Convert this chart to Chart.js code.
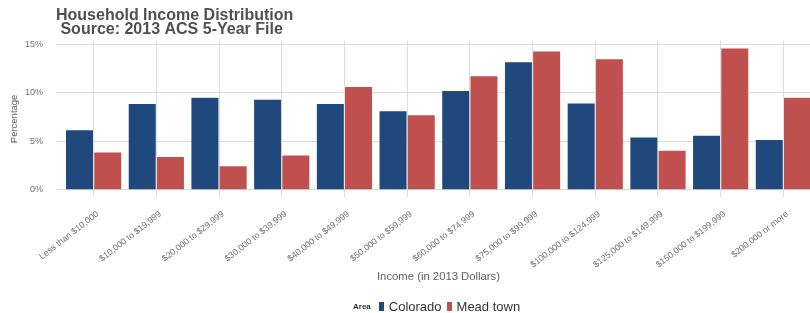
<!DOCTYPE html>
<html>
<head>
<meta charset="utf-8">
<script src="https://cdn.jsdelivr.net/npm/chart.js@4.4.1/dist/chart.umd.min.js"></script>
<style>
  body { margin: 0; overflow: hidden; background: #fff; font-family: "Liberation Sans", Arial, sans-serif; }
  #wrap { position: relative; width: 830px; height: 313px; }
  #legend { position: absolute; left: 353px; top: 300px; height: 13px; display: flex; align-items: center; color: #333; }
  #legend .ttl { font-size: 8px; font-weight: bold; margin-right: 8px; }
  #legend .sw { width: 5px; height: 9px; margin-right: 5px; }
  #legend .lb { font-size: 13px; margin-right: 5px; }
</style>
</head>
<body>
<div id="wrap">
  <canvas id="incomeChart"></canvas>
  <div id="legend">
    <span class="ttl">Area</span>
    <span class="sw" style="background:#1F497D"></span><span class="lb">Colorado</span>
    <span class="sw" style="background:#C0504D"></span><span class="lb">Mead town</span>
  </div>
</div>
<script>
// income brackets
const categories = [
    'Less than $10,000', '$10,000 to $19,999', '$20,000 to $29,999', '$30,000 to $39,999',
    '$40,000 to $49,999', '$50,000 to $59,999', '$60,000 to $74,999', '$75,000 to $99,999',
    '$100,000 to $124,999', '$125,000 to $149,999', '$150,000 to $199,999', '$200,000 or more'
];
// share of households, percent
const colorado = [6.2, 8.9, 9.55, 9.35, 8.9, 8.15, 10.25, 13.2, 8.95, 5.45, 5.65, 5.2];
const meadTown = [3.9, 3.45, 2.5, 3.6, 10.65, 7.75, 11.75, 14.3, 13.5, 4.1, 14.62, 9.55];
const yTicks = [0, 5, 10, 15];

const gridColor = '#dcdcdc';

const ctx = document.getElementById('incomeChart').getContext('2d');

new Chart(ctx, {
    type: 'bar',
    data: {
        datasets: [
            {
                label: 'Colorado',
                data: colorado.map((v, i) => ({ x: i, y: v })),
                backgroundColor: '#1F497D',
                borderColor: 'rgba(255,255,255,0.6)',
                borderWidth: 0.6,
                categoryPercentage: 0.9,
                barPercentage: 1.0
            },
            {
                label: 'Mead town',
                data: meadTown.map((v, i) => ({ x: i, y: v })),
                backgroundColor: '#C0504D',
                borderColor: 'rgba(255,255,255,0.6)',
                borderWidth: 0.6,
                categoryPercentage: 0.9,
                barPercentage: 1.0
            }
        ]
    },
    options: {
        responsive: true,
        maintainAspectRatio: false,
        animation: false,
        layout: { padding: { left: 0, right: 9, top: 0, bottom: 29 } },
        scales: {
            x: {
                type: 'linear',
                offset: false,
                min: -0.6,
                max: categories.length - 1 + 0.6,
                afterBuildTicks: function(scale) {
                    scale.ticks = categories.map((c, i) => ({ value: i }));
                },
                afterFit: function(scale) { scale.height = 87; },
                border: { display: false },
                grid: { color: gridColor, drawTicks: false, offset: false },
                ticks: {
                    autoSkip: false,
                    minRotation: 38,
                    maxRotation: 38,
                    padding: 12,
                    labelOffset: 4,
                    color: '#707070',
                    font: { family: 'Liberation Sans', size: 8.8 },
                    callback: function(value) { return categories[value]; }
                },
                title: {
                    display: true,
                    text: 'Income (in 2013 Dollars)',
                    color: '#606060',
                    font: { family: 'Liberation Sans', size: 11.3 },
                    padding: { top: 0, bottom: 0 }
                }
            },
            y: {
                min: -0.73,
                max: 15.35,
                afterBuildTicks: function(scale) {
                    scale.ticks = yTicks.map(v => ({ value: v }));
                },
                afterFit: function(scale) { scale.width = 56; },
                border: { display: false },
                grid: { color: gridColor, drawTicks: false },
                ticks: {
                    padding: 13,
                    color: '#707070',
                    font: { family: 'Liberation Sans', size: 9 },
                    callback: function(value) { return value + '%'; }
                },
                title: {
                    display: true,
                    text: 'Percentage',
                    color: '#5a5a5a',
                    font: { family: 'Liberation Sans', size: 9.5 },
                    padding: { top: 9, bottom: 0 }
                }
            }
        },
        plugins: {
            legend: { display: false },
            tooltip: { enabled: false },
            title: {
                display: true,
                text: ['Household Income Distribution', ' Source: 2013 ACS 5-Year File'],
                align: 'start',
                fullSize: false,
                color: '#505050',
                font: { family: 'Liberation Sans', size: 16, weight: 'bold', lineHeight: 0.9 },
                padding: { top: 8, bottom: 4 }
            }
        }
    }
});
</script>
</body>
</html>
